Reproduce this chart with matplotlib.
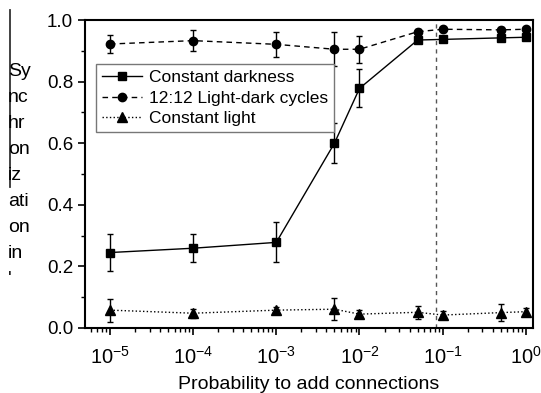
import matplotlib
matplotlib.use("Agg")
import matplotlib.pyplot as plt
from matplotlib.lines import Line2D
from matplotlib.ticker import LogLocator, NullFormatter, MultipleLocator, FormatStrFormatter

plt.rcParams['font.family'] = ['Liberation Sans', 'DejaVu Sans']

# probability to add connections
prob = [1e-5, 1e-4, 1e-3, 5e-3, 1e-2, 5e-2, 1e-1, 5e-1, 1e0]

# constant darkness
dark = [0.245, 0.259, 0.278, 0.600, 0.778, 0.935, 0.937, 0.942, 0.944]
dark_err = [0.060, 0.045, 0.065, 0.065, 0.062, 0.010, 0.008, 0.008, 0.008]

# 12:12 light-dark cycles
ld = [0.922, 0.933, 0.921, 0.905, 0.905, 0.962, 0.970, 0.968, 0.970]
ld_err = [0.030, 0.035, 0.040, 0.055, 0.043, 0.010, 0.008, 0.008, 0.008]

# constant light
light = [0.058, 0.048, 0.058, 0.061, 0.045, 0.051, 0.042, 0.050, 0.053]
light_err = [0.037, 0.015, 0.010, 0.035, 0.014, 0.022, 0.012, 0.027, 0.012]

threshold = 1 / 12

ylabel_chunks = ["Sy", "nc", "hr", "on", "iz", "ati", "on", "in", "'"]

fig = plt.figure(figsize=(5.41, 3.93), dpi=100)
ax = fig.add_axes([0.157, 0.1654, 0.828, 0.7837])

series = [
    (dark, dark_err, 's', '-', 5.5, 'Constant darkness'),
    (ld, ld_err, 'o', (0, (4, 3)), 6, '12:12 Light-dark cycles'),
    (light, light_err, '^', ':', 7, 'Constant light'),
]
for vals, errs, mk, ls, ms, lab in series:
    # error bars first, then the line with markers (legend shows only the line)
    ax.errorbar(prob, vals, yerr=errs, fmt='none', ecolor='black',
                elinewidth=1, capsize=2.5, capthick=1)
    ax.plot(prob, vals, color='black', marker=mk, ls=ls, lw=1, ms=ms, label=lab)

ax.axvline(threshold, color='#555555', lw=1, ls=(0, (3, 3)))

ax.set_xscale('log')
ax.set_xlim(10 ** -5.3, 10 ** 0.084)
ax.set_ylim(0, 1.0)
ax.xaxis.set_major_locator(LogLocator(base=10, numticks=10))
ax.xaxis.set_minor_locator(LogLocator(base=10, subs=range(2, 10), numticks=20))
ax.xaxis.set_minor_formatter(NullFormatter())
ax.yaxis.set_major_locator(MultipleLocator(0.2))
ax.yaxis.set_minor_locator(MultipleLocator(0.1))
ax.yaxis.set_major_formatter(FormatStrFormatter('%.1f'))

for s in ax.spines.values():
    s.set_linewidth(1.5)
ax.tick_params(which='major', direction='out', length=5, width=1.2, labelsize=13.5)
ax.tick_params(which='minor', direction='out', length=3, width=1)
ax.tick_params(axis='x', pad=8, labelsize=14.5)

ax.set_xlabel('Probability to add connections', fontsize=14, labelpad=5.5)

leg = ax.legend(loc='upper left', bbox_to_anchor=(0.005, 0.885), fontsize=12.5,
                handlelength=2.3, handletextpad=0.4, labelspacing=0.3,
                borderpad=0.35, fancybox=False, framealpha=1)
leg.get_frame().set_edgecolor('#777777')
leg.get_frame().set_linewidth(1)

# broken y label as in the source figure
fig.text(8 / 541, 1 - 63 / 393, "\n".join(ylabel_chunks), fontsize=14,
         ha='left', va='top', linespacing=1.69)
fig.add_artist(Line2D([9.5 / 541, 9.5 / 541], [1 - 10 / 393, 1 - 187 / 393],
                      color='#333333', lw=1.3))

fig.savefig('out.png', dpi=100)
